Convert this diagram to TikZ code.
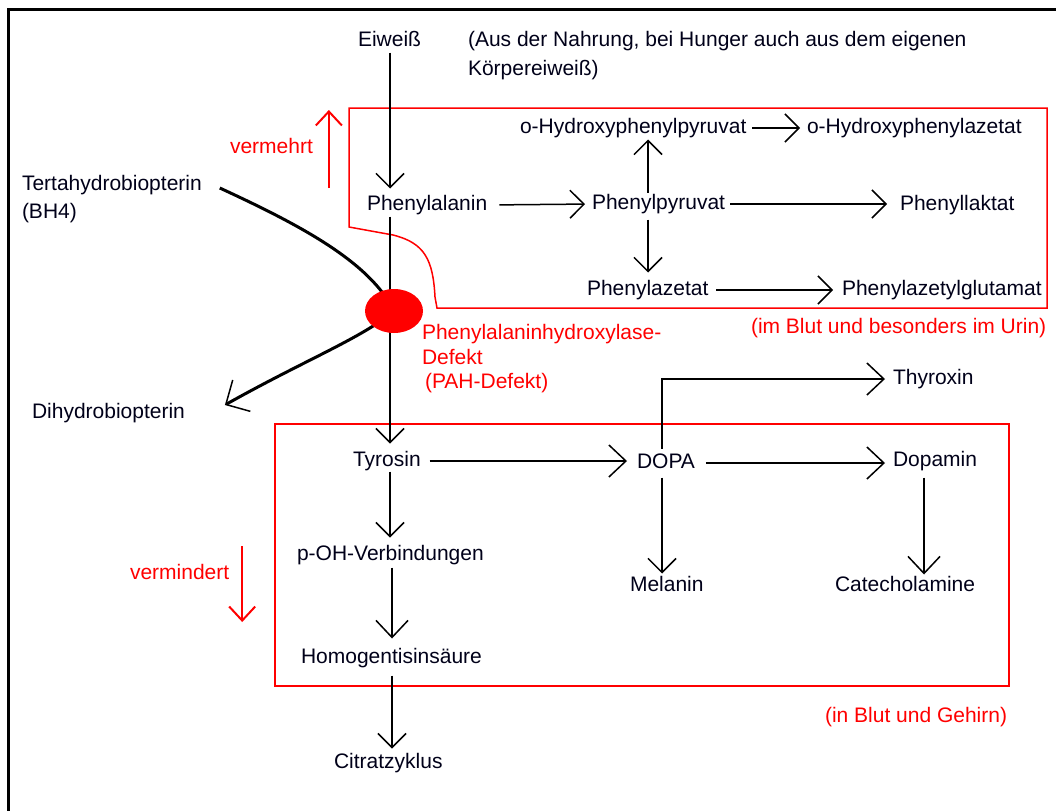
\documentclass[tikz,border=0pt]{standalone}
\usepackage{fontspec}
\setmainfont{Liberation Sans}
\usetikzlibrary{arrows.meta,calc,shapes.geometric}
\begin{document}
\begin{tikzpicture}[x=1pt,y=-1pt,
  txt/.style={anchor=west,inner sep=0pt,outer sep=0pt,text height=15pt,text depth=4pt,font=\fontsize{21}{25}\selectfont,text=black!90!blue},
  rtxt/.style={txt,text=red},
  arr/.style={line width=1.5pt,-{Straight Barb[length=14pt,width=28pt]}},
  bigarr/.style={line width=1.5pt,-{Straight Barb[length=17pt,width=32pt]}},
  redarr/.style={red,line width=2pt,-{Straight Barb[length=14pt,width=26pt]}},
  redbox/.style={red,line width=1.5pt},
  bhcurve/.style={line width=3pt},
  bhtip/.style={line width=3pt,-{Straight Barb[length=18pt,width=36pt,line width=1.5pt]}}
]
\useasboundingbox[fill=white] (0,0) rectangle (1056,811);

% frame
\draw[line width=3pt] (1056,9) -- (8,9) -- (8,811);

% red boxes
\draw[redbox] (349,108) -- (1047,108) -- (1047,308) -- (437,308) -- (435,297)
  .. controls (433,260) and (425,243) .. (393,235) -- (349,227) -- cycle;
\draw[redbox] (275,424) rectangle (1009,686);

% text nodes
\node[txt] (eiw) at (358,41) {Eiweiß};
\node[txt] (note1) at (468,41) {(Aus der Nahrung, bei Hunger auch aus dem eigenen};
\node[txt] (note2) at (468,70) {Körpereiweiß)};
\node[txt] (phe) at (367,205) {Phenylalanin};
\node[txt] (ppy) at (592,204) {Phenylpyruvat};
\node[txt] (ohpp) at (520,128) {o-Hydroxyphenylpyruvat};
\node[txt] (ohpa) at (807,128) {o-Hydroxyphenylazetat};
\node[txt] (plak) at (900,205) {Phenyllaktat};
\node[txt] (paz) at (587,290) {Phenylazetat};
\node[txt] (pazg) at (842,290) {Phenylazetylglutamat};
\node[rtxt] (urin) at (751,328) {(im Blut und besonders im Urin)};
\node[txt] (bh4) at (22,185) {Tertahydrobiopterin};
\node[txt] (bh4b) at (22,213) {(BH4)};
\node[txt] (dhb) at (32,413) {Dihydrobiopterin};
\node[rtxt] (pah1) at (422,334) {Phenylalaninhydroxylase-};
\node[rtxt] (pah2) at (422,359) {Defekt};
\node[rtxt] (pah3) at (425,383) {(PAH-Defekt)};
\node[rtxt] (vmehr) at (230,148) {vermehrt};
\node[rtxt] (vmind) at (130,574) {vermindert};
\node[txt] (tyr) at (353,461) {Tyrosin};
\node[txt] (dopa) at (637,463) {DOPA};
\node[txt] (thy) at (893,379) {Thyroxin};
\node[txt] (dpm) at (893,461) {Dopamin};
\node[txt] (mel) at (630,586) {Melanin};
\node[txt] (cat) at (835,586) {Catecholamine};
\node[txt] (poh) at (297,555) {p-OH-Verbindungen};
\node[txt] (hga) at (301,658) {Homogentisinsäure};
\node[txt] (cit) at (334,763) {Citratzyklus};
\node[rtxt] (gehirn) at (825,717) {(in Blut und Gehirn)};

% column coordinates
\coordinate (colA) at (390,0);
\coordinate (colB) at (648,0);
\coordinate (colD) at (662,0);
\coordinate (colE) at (924,0);
\coordinate (colF) at (392,0);

% BH4 curves
\coordinate (dotc) at (394,311);
\coordinate (bhstart) at ($(bh4.east)+(18,3)$);
\coordinate (dhbtip) at ($(dhb.east)+(40,-8)$);
\draw[bhcurve] (bhstart) .. controls (300,225) and (370,262) .. (dotc);
\draw[bhtip] (dotc) .. controls (362,338) and (305,360) .. (dhbtip);

% black connectors
\draw[arr,shorten <=2pt,shorten >=7pt] (eiw.south -| colA) -- (phe.north -| colA);
\draw[arr,shorten <=2pt,shorten >=8pt] (phe.south -| colA) -- (tyr.north -| colA);
\draw[arr,shorten <=12pt,shorten >=7pt] (phe.east) -- (ppy.west);
\draw[arr,shorten <=2pt,shorten >=2pt] (ppy.north -| colB) -- (ohpp.south -| colB);
\draw[arr,shorten <=6pt,shorten >=7pt] (ohpp.east) -- (ohpa.west);
\draw[arr,shorten <=5pt,shorten >=13pt] (ppy.east) -- (ppy.east -| plak.west);
\draw[arr,shorten <=6pt,shorten >=8pt] (ppy.south -| colB) -- (paz.north -| colB);
\draw[arr,shorten <=8pt,shorten >=9pt] (paz.east) -- (pazg.west);
\draw[bigarr,shorten <=9pt,shorten >=10pt] (tyr.east) -- (tyr.east -| dopa.west);
\draw[bigarr,shorten <=5pt,shorten >=8pt] (dopa.north -| colD) |- (thy.west);
\draw[bigarr,shorten <=11pt,shorten >=8pt] (dopa.east) -- (dopa.east -| dpm.west);
\draw[arr,shorten <=5pt,shorten >=3pt] (dopa.south -| colD) -- (mel.north -| colD);
\draw[bigarr,shorten <=7pt,shorten >=2pt] (dpm.south -| colE) -- (cat.north -| colE);
\draw[arr,shorten <=1pt,shorten >=8pt] (tyr.south -| colA) -- (poh.north -| colA);
\draw[bigarr,shorten <=3pt,shorten >=10pt] (poh.south -| colF) -- (hga.north -| colF);
\draw[arr,shorten <=8pt,shorten >=5pt] (hga.south -| colF) -- (cit.north -| colF);

% red ellipse (defect)
\node[ellipse,fill=red,minimum width=58pt,minimum height=44pt,inner sep=0pt] (dot) at (dotc) {};

% red trend arrows
\coordinate (upA) at ($(vmehr.east)+(16,40)$);
\coordinate (upB) at ($(vmehr.east)+(16,-38)$);
\draw[redarr] (upA) -- (upB);
\coordinate (dnA) at ($(vmind.east)+(13,-28)$);
\coordinate (dnB) at ($(vmind.east)+(13,48)$);
\draw[redarr] (dnA) -- (dnB);
\end{tikzpicture}
\end{document}
